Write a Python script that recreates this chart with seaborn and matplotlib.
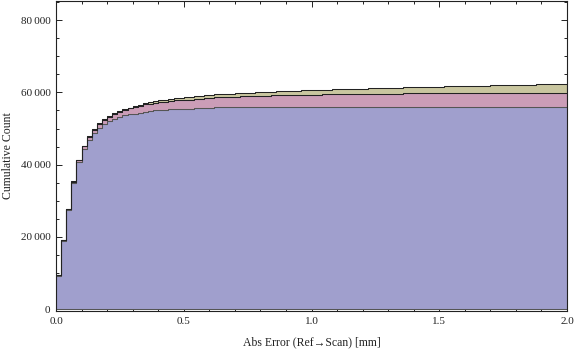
import numpy as np
import pandas as pd
import matplotlib
matplotlib.use("Agg")
import matplotlib.pyplot as plt
from matplotlib.ticker import MultipleLocator, FuncFormatter
import seaborn as sns

# Bins of 0.02 mm from 0 to 2 mm
bin_edges = np.round(np.arange(0, 2.0001, 0.02), 4)

# Stacked cumulative tops (one value per bin)
total_top = [
    9600, 19250, 27850, 35400, 41300, 45160, 47820, 49750, 51410, 52510,
    53340, 54260, 54810, 55460, 55820, 56280, 56650, 57020, 57250, 57550,
    57800, 57800, 58170, 58400, 58400, 58680, 58680, 59040, 59040, 59320,
    59320, 59590, 59590, 59590, 59590, 59870, 59870, 59870, 59870, 60150,
    60150, 60150, 60150, 60400, 60400, 60400, 60400, 60400, 60610, 60610,
    60610, 60610, 60610, 60610, 60890, 60890, 60890, 60890, 60890, 60890,
    60890, 61170, 61170, 61170, 61170, 61170, 61170, 61170, 61420, 61420,
    61420, 61420, 61420, 61420, 61420, 61420, 61800, 61800, 61800, 61800,
    61800, 61800, 61800, 61800, 61800, 62160, 62160, 62160, 62160, 62160,
    62160, 62160, 62160, 62160, 62350, 62350, 62350, 62350, 62350, 62350,
]
pink_top = [
    9500, 19150, 27750, 35300, 41200, 45050, 47700, 49600, 51250, 52350,
    53180, 54050, 54580, 55200, 55550, 55980, 56330, 56680, 56900, 57190,
    57400, 57400, 57700, 57800, 57800, 57900, 57900, 58250, 58250, 58350,
    58350, 58620, 58620, 58620, 58620, 58680, 58950, 58950, 58950, 58950,
    58950, 58950, 59230, 59230, 59230, 59230, 59230, 59230, 59230, 59230,
    59230, 59230, 59510, 59510, 59510, 59510, 59510, 59510, 59510, 59510,
    59510, 59510, 59510, 59510, 59510, 59510, 59510, 59510, 59780, 59780,
    59780, 59780, 59780, 59780, 59780, 59950, 59950, 59950, 59950, 59950,
    59950, 59950, 59950, 59950, 59950, 59950, 59950, 59950, 59950, 59950,
    59950, 59950, 59950, 59950, 59950, 59950, 59950, 59950, 59950, 59950,
]
blue_top = [
    9300, 18950, 27550, 34950, 40850, 44350, 46900, 48750, 50120, 51220,
    52050, 52700, 53160, 53620, 53890, 54160, 54350, 54540, 54720, 55000,
    55000, 55000, 55370, 55370, 55370, 55370, 55370, 55650, 55650, 55650,
    55650, 55930, 55930, 55930, 55930, 55930, 55930, 55930, 55930, 55930,
    55930, 55930, 55930, 55930, 55930, 55930, 55930, 55930, 55930, 55930,
    55930, 55930, 55930, 55930, 55930, 55930, 55930, 55930, 55930, 55930,
    55930, 55930, 55930, 55930, 55930, 55930, 55930, 55930, 55930, 55930,
    55930, 55930, 55930, 55930, 55930, 56100, 56100, 56100, 56100, 56100,
    56100, 56100, 56100, 56100, 56100, 56100, 56100, 56100, 56100, 56100,
    56100, 56100, 56100, 56100, 56100, 56100, 56100, 56100, 56100, 56100,
]

layers = ["blue", "pink", "olive"]
colors = {"blue": "#A09FCD", "pink": "#CB9DB7", "olive": "#C9C69F"}
edges = {"blue": "#555555", "pink": "#555555", "olive": "#222222"}

# cumulative thickness of each layer -> per-bin counts
cum = {
    "blue": np.array(blue_top),
    "pink": np.array(pink_top) - np.array(blue_top),
    "olive": np.array(total_top) - np.array(pink_top),
}
centers = (bin_edges[:-1] + bin_edges[1:]) / 2
rows = []
for name in layers:
    counts = np.diff(cum[name], prepend=0)
    rows.append(pd.DataFrame({"err": centers, "n": counts, "layer": name}))
df = pd.concat(rows, ignore_index=True)

sns.set_theme(style="ticks")
plt.rcParams["font.family"] = ["Liberation Serif", "DejaVu Serif"]

fig = plt.figure(figsize=(5.76, 3.56), dpi=100)
ax = fig.add_axes([56 / 576, 1 - 311 / 356, 511 / 576, 310 / 356])

sns.histplot(data=df, x="err", weights="n", hue="layer", hue_order=layers[::-1],
             bins=bin_edges.tolist(), cumulative=True, element="step", multiple="stack",
             palette=colors, alpha=1, edgecolor="#333333", linewidth=0.75,
             legend=False, ax=ax)

# darker outline on the top layer, softer lines between layers
for coll in ax.collections:
    fc = matplotlib.colors.to_hex(coll.get_facecolor()[0]).upper()
    for name, c in colors.items():
        if fc == c.upper():
            coll.set_edgecolor(edges[name])

ax.set_xlim(0, 2)
ax.set_ylim(-500, 85300)
ax.xaxis.set_major_locator(MultipleLocator(0.5))
ax.xaxis.set_minor_locator(MultipleLocator(0.1))
ax.yaxis.set_major_locator(MultipleLocator(20000))
ax.yaxis.set_minor_locator(MultipleLocator(5000))
ax.xaxis.set_major_formatter(FuncFormatter(lambda v, p: f"{v:.1f}"))
ax.yaxis.set_major_formatter(
    FuncFormatter(lambda v, p: "0" if v == 0 else f"{int(v) // 1000}\u2009000"))
ax.tick_params(which="both", direction="in", top=True, right=True,
               color="#222222", labelsize=8, labelcolor="#222222", width=0.7)
ax.tick_params(which="major", length=4, pad=4)
ax.tick_params(which="minor", length=2)
for s in ax.spines.values():
    s.set_color("#222222")
    s.set_linewidth(0.8)

ax.set_xlabel("Abs Error (Ref\u2192Scan) [mm]", fontsize=8.5, color="#222222", labelpad=8)
ax.set_ylabel("Cumulative Count", fontsize=8.5, color="#222222", labelpad=5)

fig.savefig("out.png", dpi=100)
